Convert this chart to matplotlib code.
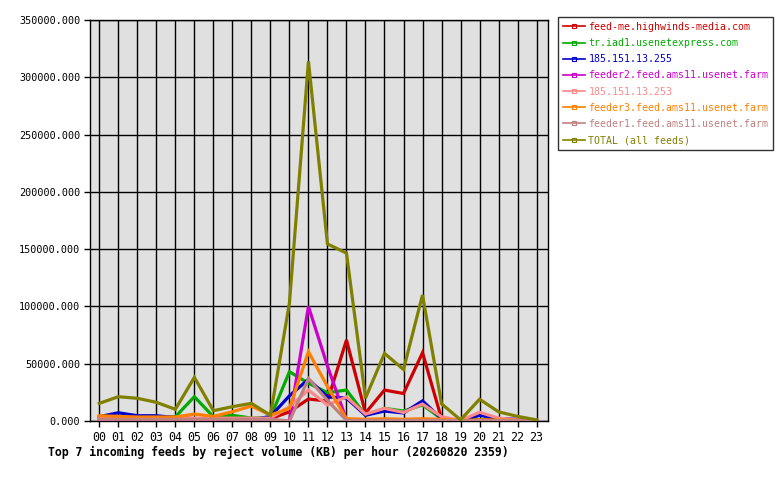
import matplotlib
matplotlib.use("Agg")
from matplotlib import pyplot as plt
from matplotlib.lines import Line2D
from matplotlib.ticker import MultipleLocator, FuncFormatter

plt.rcParams['font.family'] = ['DejaVu Sans Mono']

hours = ["%02d" % h for h in range(24)]

# reject volume (KB) per hour
feed_me = [2000, 2500, 2000, 2500, 3500, 2000, 2000, 3000, 2000, 2000, 8000, 19200,
           17400, 70700, 7000, 27000, 24000, 59600, 2000, 0, 1000, 500, 500, 300]
tr_iad1 = [3000, 3500, 3000, 2500, 3700, 21200, 3700, 5000, 2500, 3000, 43000, 33000,
           24700, 27000, 5000, 11000, 8700, 14000, 2000, 0, 1000, 500, 500, 300]
ip_255 = [3800, 7200, 4600, 4600, 3000, 1500, 1000, 1500, 1000, 4000, 22000, 36400,
          21000, 20000, 5000, 8700, 7000, 17500, 2000, 0, 5000, 2000, 1500, 500]
feeder2 = [300, 0, 300, 300, 300, 300, 300, 300, 300, 300, 0, 100000,
           48000, 1000, 0, 0, 0, 0, 0, 0, 0, 0, 0, 0]
ip_253 = [2500, 2500, 2500, 2500, 2500, 2500, 2500, 2500, 2500, 2500, 12500, 27000,
          14000, 21000, 6000, 11000, 7500, 14800, 3700, 500, 7600, 2500, 1000, 500]
feeder3 = [4600, 4000, 3500, 3500, 3500, 6100, 4000, 8100, 13000, 5200, 11000, 60500,
           30000, 2000, 1500, 2000, 1500, 2000, 1500, 500, 1000, 800, 600, 400]
feeder1 = [1500, 1500, 1500, 1500, 1500, 1500, 1500, 1500, 1500, 1500, 0, 37000,
           18000, 500, 500, 500, 500, 500, 500, 300, 300, 300, 300, 300]
total = [15400, 21200, 19800, 16300, 10200, 38100, 9000, 12500, 15400, 5000, 103000, 314000,
         154500, 146600, 20000, 59000, 45000, 110000, 15000, 1000, 19000, 8000, 4000, 1000]

series = [
    ("feed-me.highwinds-media.com", feed_me, "#cc0000"),
    ("tr.iad1.usenetexpress.com", tr_iad1, "#00aa00"),
    ("185.151.13.255", ip_255, "#0000cc"),
    ("feeder2.feed.ams11.usenet.farm", feeder2, "#cc00cc"),
    ("185.151.13.253", ip_253, "#ff8888"),
    ("feeder3.feed.ams11.usenet.farm", feeder3, "#ff8000"),
    ("feeder1.feed.ams11.usenet.farm", feeder1, "#c08080"),
    ("TOTAL (all feeds)", total, "#808000"),
]

fig = plt.figure(figsize=(7.8, 4.8), dpi=100)
ax = fig.add_axes([90 / 780, 1 - 421 / 480, 458 / 780, 401 / 480])
ax.set_facecolor('#e0e0e0')

x = list(range(24))
handles = []
for name, vals, col in series:
    ax.plot(x, vals, color=col, linewidth=2.3, solid_joinstyle='miter', zorder=3)
    handles.append(Line2D([0], [0], color=col, linewidth=1.2, marker='s', markersize=3,
                          markerfacecolor='none', markeredgecolor=col, markeredgewidth=0.8))

ax.set_xlim(-0.49, 23.6)
ax.set_ylim(0, 350000)
ax.set_xticks(x)
ax.set_xticklabels(hours, fontsize=8.4)
ax.yaxis.set_major_locator(MultipleLocator(50000))
ax.yaxis.set_major_formatter(FuncFormatter(lambda v, p: "%.3f" % v))
ax.tick_params(axis='y', labelsize=7.3, length=4, width=1, direction='out', pad=3)
ax.tick_params(axis='x', length=4, width=1, direction='out', pad=3)
ax.grid(True, color='black', linewidth=1, linestyle='-', zorder=1)
ax.set_axisbelow(True)
for s in ax.spines.values():
    s.set_color('black')
    s.set_linewidth(1)

leg = fig.legend(handles, [s[0] for s in series], loc='upper left',
                 bbox_to_anchor=(558 / 780, 1 - 17 / 480), fontsize=7.15,
                 frameon=True, fancybox=False, handlelength=2.2, handletextpad=0.35,
                 labelspacing=0.62, borderpad=0.5, borderaxespad=0)
leg.get_frame().set_edgecolor('black')
leg.get_frame().set_linewidth(1)
for txt, (_, _, col) in zip(leg.get_texts(), series):
    txt.set_color(col)

fig.text(48 / 780, 1 - 452 / 480,
         "Top 7 incoming feeds by reject volume (KB) per hour (20260820 2359)",
         fontsize=8.3, fontweight='bold', va='center', ha='left')

fig.savefig('out.png', dpi=100)
